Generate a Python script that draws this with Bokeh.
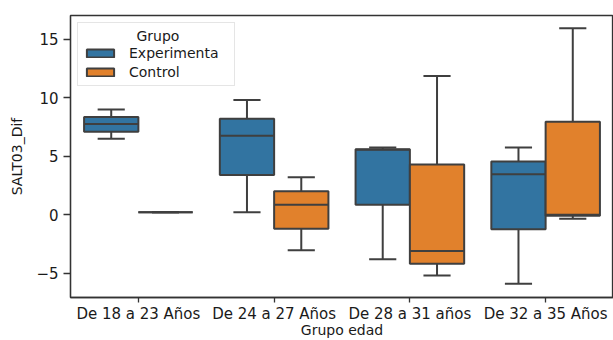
from bokeh.plotting import figure
from bokeh.models import ColumnDataSource, FactorRange, Range1d, FixedTicker
from bokeh.transform import dodge
from bokeh.embed import file_html
from bokeh.resources import INLINE

# ---- data ----
categories = ["De 18 a 23 Años", "De 24 a 27 Años", "De 28 a 31 años", "De 32 a 35 Años"]
groups = ["Experimenta", "Control"]

exp_low = [6.5, 0.2, -3.8, -5.9]
exp_q1 = [7.1, 3.4, 0.85, -1.25]
exp_med = [7.75, 6.75, 5.55, 3.45]
exp_q3 = [8.35, 8.2, 5.6, 4.55]
exp_high = [9.0, 9.8, 5.75, 5.75]

ctl_low = [0.2, -3.05, -5.2, -0.35]
ctl_q1 = [0.2, -1.2, -4.2, -0.1]
ctl_med = [0.2, 0.85, -3.1, 0.0]
ctl_q3 = [0.2, 2.0, 4.3, 7.95]
ctl_high = [0.2, 3.2, 11.85, 15.95]

y_ticks = [-5, 0, 5, 10, 15]

# ---- styles ----
FONT = "DejaVu Sans"
TEXT = "#1a1a1a"
EDGE = "#3f3f3f"
colors = ["#3274a1", "#e1812c"]
offsets = [-0.2, 0.2]
BOX_W = 0.4
CAP_W = 0.2
Y0, Y1 = -7.08, 17.03

p = figure(
    x_range=FactorRange(factors=categories, range_padding=0),
    y_range=Range1d(Y0, Y1),
    width=613, height=340,
    output_backend="svg", toolbar_location=None,
    min_border_left=70, min_border_right=0, min_border_top=15, min_border_bottom=0,
    background_fill_color="white", border_fill_color="white",
)

series = [
    (exp_low, exp_q1, exp_med, exp_q3, exp_high),
    (ctl_low, ctl_q1, ctl_med, ctl_q3, ctl_high),
]

for gi, (lo, q1, med, q3, hi) in enumerate(series):
    src = ColumnDataSource(dict(cat=categories, low=lo, q1=q1, med=med, q3=q3, high=hi))
    off = offsets[gi]
    xc = dodge("cat", off, range=p.x_range)
    # whiskers
    p.segment(x0=xc, x1=xc, y0="q3", y1="high", source=src, line_color=EDGE, line_width=2)
    p.segment(x0=xc, x1=xc, y0="q1", y1="low", source=src, line_color=EDGE, line_width=2)
    # caps
    p.segment(x0=dodge("cat", off - CAP_W / 2, range=p.x_range),
              x1=dodge("cat", off + CAP_W / 2, range=p.x_range),
              y0="high", y1="high", source=src, line_color=EDGE, line_width=2)
    p.segment(x0=dodge("cat", off - CAP_W / 2, range=p.x_range),
              x1=dodge("cat", off + CAP_W / 2, range=p.x_range),
              y0="low", y1="low", source=src, line_color=EDGE, line_width=2)
    # boxes
    p.vbar(x=xc, width=BOX_W, top="q3", bottom="q1", source=src,
           fill_color=colors[gi], line_color=EDGE, line_width=2,
           legend_label=groups[gi])
    # medians
    p.segment(x0=dodge("cat", off - BOX_W / 2, range=p.x_range),
              x1=dodge("cat", off + BOX_W / 2, range=p.x_range),
              y0="med", y1="med", source=src, line_color=EDGE, line_width=2)

# ---- axes ----
p.xgrid.visible = False
p.ygrid.visible = False
p.outline_line_color = "#333333"
p.outline_line_width = 1.3

for ax in (p.xaxis[0], p.yaxis[0]):
    ax.axis_line_color = "#333333"
    ax.axis_line_width = 1.3
    ax.major_tick_line_color = "#333333"
    ax.major_tick_line_width = 1.3
    ax.major_tick_in = 0
    ax.minor_tick_line_color = None
    ax.major_label_text_font = FONT
    ax.major_label_text_color = TEXT
    ax.axis_label_text_font = FONT
    ax.axis_label_text_color = TEXT
    ax.axis_label_text_font_style = "normal"
    ax.axis_label_text_font_size = "14px"

p.yaxis.ticker = FixedTicker(ticks=y_ticks)
p.yaxis.major_label_text_font_size = "15px"
p.yaxis.major_tick_out = 7
p.yaxis.major_label_standoff = 5
p.yaxis.axis_label = "SALT03_Dif"
p.yaxis.axis_label_standoff = 8

p.xaxis.major_label_text_font_size = "15px"
p.xaxis.major_label_text_line_height = 1.0
p.xaxis.major_tick_out = 5
p.xaxis.major_label_standoff = 2
p.xaxis.axis_label = "Grupo edad"
p.xaxis.axis_label_text_line_height = 1.0
p.xaxis.axis_label_standoff = -4

# ---- legend ----
lg = p.legend[0]
lg.location = "top_left"
lg.margin = 7
lg.title = "\u00a0" * 12 + "Grupo"
lg.title_text_font = FONT
lg.title_text_font_style = "normal"
lg.title_text_font_size = "14px"
lg.title_text_color = TEXT
lg.title_standoff = 1
lg.label_text_font = FONT
lg.label_text_font_size = "14px"
lg.label_text_color = TEXT
lg.label_height = 16
lg.label_width = 100
lg.label_standoff = 12
lg.glyph_width = 34
lg.glyph_height = 10
lg.spacing = 3
lg.padding = 5
lg.border_line_color = "#cccccc"
lg.border_line_width = 1
lg.background_fill_color = "white"
lg.background_fill_alpha = 0.8

open("out.html", "w").write(file_html(p, INLINE))
